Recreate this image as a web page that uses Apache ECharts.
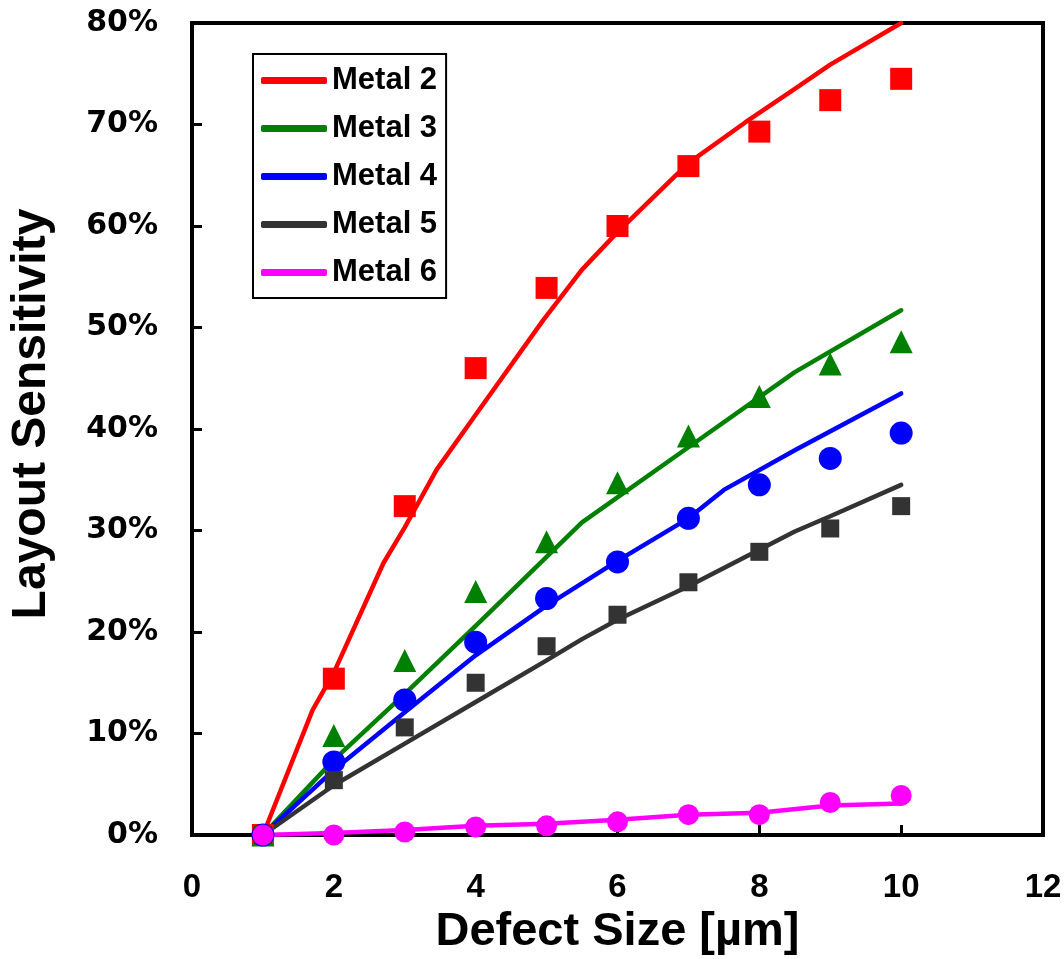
<!DOCTYPE html>
<html>
<head>
<meta charset="utf-8">
<script src="https://cdn.jsdelivr.net/npm/echarts@6/dist/echarts.min.js"></script>
<style>html,body{margin:0;padding:0;background:#fff;}#main{width:1064px;height:959px;}</style>
</head>
<body>
<div id="main"></div>
<script>
// Measured data (defect size in µm, sensitivity in %)
const defectSizes = [1, 2, 3, 4, 5, 6, 7, 8, 9, 10];
const metal2Meas = [0, 15.4, 32.4, 46.0, 53.9, 60.0, 65.9, 69.3, 72.4, 74.5];
const metal3Meas = [0, 9.8, 17.2, 24.0, 28.9, 34.7, 39.3, 43.2, 46.4, 48.6];
const metal4Meas = [0, 7.2, 13.3, 19.0, 23.3, 26.9, 31.2, 34.5, 37.1, 39.6];
const metal5Meas = [0, 5.4, 10.6, 15.0, 18.6, 21.7, 24.9, 27.9, 30.2, 32.4];
const metal6Meas = [0, 0.0, 0.3, 0.8, 0.9, 1.3, 2.0, 2.0, 3.2, 3.9];

// Model curves
const metal2ModelX = [1, 1.7, 2, 2.7, 3, 3.45, 4, 4.95, 5.5, 6, 7, 7.8, 8.5, 9, 10];
const metal2ModelY = [0, 12.3, 16.0, 26.8, 30.3, 36.0, 41.4, 50.7, 55.7, 59.4, 66.2, 70.2, 73.5, 75.9, 80.0];
const metal3ModelX = [1, 2, 3, 4, 5.5, 7, 8.5, 10];
const metal3ModelY = [0, 7.4, 13.9, 20.6, 30.8, 38.2, 45.6, 51.7];
const metal4ModelX = [1, 2, 3, 4, 5, 6, 7, 7.5, 8.5, 10];
const metal4ModelY = [0, 6.4, 12.1, 17.7, 22.6, 27.0, 31.2, 34.0, 37.9, 43.5];
const metal5ModelX = [1, 2, 3, 4, 5, 5.5, 6, 7, 8, 8.5, 9, 10];
const metal5ModelY = [0, 4.9, 9.0, 13.1, 17.2, 19.3, 21.2, 24.5, 28.1, 29.9, 31.4, 34.5];
const metal6ModelX = [1, 2, 3, 4, 5, 6, 7, 8, 9, 10];
const metal6ModelY = [0, 0.2, 0.5, 0.9, 1.1, 1.5, 2.0, 2.2, 2.9, 3.1];

const seriesNames = ['Metal 2', 'Metal 3', 'Metal 4', 'Metal 5', 'Metal 6'];
const colors = ['#FF0000', '#008000', '#0000FF', '#333333', '#FF00FF'];
const xTicks = [0, 2, 4, 6, 8, 10, 12];
const yTicks = [0, 10, 20, 30, 40, 50, 60, 70, 80];

const meas = [metal2Meas, metal3Meas, metal4Meas, metal5Meas, metal6Meas];
const modelX = [metal2ModelX, metal3ModelX, metal4ModelX, metal5ModelX, metal6ModelX];
const modelY = [metal2ModelY, metal3ModelY, metal4ModelY, metal5ModelY, metal6ModelY];
const symbols = ['rect', 'triangle', 'circle', 'rect', 'circle'];
const symbolSizes = [22, 23, 23, 18, 21];

const zip = (xs, ys) => xs.map((x, i) => [x, ys[i]]);

const series = [];
seriesNames.forEach((name, i) => {
  series.push({
    name: name,
    type: 'line',
    data: zip(modelX[i], modelY[i]),
    showSymbol: false,
    symbol: 'none',
    lineStyle: { color: colors[i], width: 4.5, cap: 'round', join: 'round' },
    itemStyle: { color: colors[i] },
    z: 2,
    clip: false
  });
});
seriesNames.forEach((name, i) => {
  series.push({
    name: name + ' data',
    type: 'scatter',
    data: zip(defectSizes, meas[i]),
    symbol: symbols[i],
    symbolSize: symbolSizes[i],
    itemStyle: { color: colors[i], opacity: 1 },
    z: 3
  });
});

const chart = echarts.init(document.getElementById('main'), null, { renderer: 'canvas' });
chart.setOption({
  animation: false,
  backgroundColor: '#ffffff',
  grid: {
    left: 192, right: 21, top: 23, bottom: 124,
    containLabel: false,
    outerBoundsMode: 'none',
    show: true, borderColor: '#000', borderWidth: 4, backgroundColor: 'transparent'
  },
  legend: {
    data: seriesNames,
    orient: 'vertical',
    left: 253,
    top: 54,
    icon: 'roundRect',
    itemWidth: 66,
    itemHeight: 7,
    itemGap: 17,
    padding: [11, 9, 10, 8],
    borderColor: '#000',
    borderWidth: 2,
    backgroundColor: '#fff',
    textStyle: { fontFamily: 'Liberation Sans, Arial, sans-serif', fontWeight: 'bold', fontSize: 31, color: '#000', lineHeight: 30, padding: [0, 0, 0, 0] }
  },
  xAxis: {
    type: 'value',
    min: xTicks[0], max: xTicks[xTicks.length - 1], interval: 2,
    name: 'Defect Size [µm]',
    nameLocation: 'middle',
    nameGap: 60,
    nameTextStyle: { fontFamily: 'Liberation Sans, Arial, sans-serif', fontWeight: 'bold', fontSize: 47, color: '#000' },
    axisLine: { show: true, onZero: false, lineStyle: { color: '#000', width: 4 } },
    axisTick: { show: true, inside: true, length: 10, lineStyle: { color: '#000', width: 3 } },
    axisLabel: { margin: 36, fontFamily: 'Liberation Sans, Arial, sans-serif', fontWeight: 'bold', fontSize: 33, color: '#000' },
    splitLine: { show: false }
  },
  yAxis: {
    type: 'value',
    min: yTicks[0], max: yTicks[yTicks.length - 1], interval: 10,
    name: 'Layout Sensitivity',
    nameLocation: 'middle',
    nameGap: 136,
    nameTextStyle: { fontFamily: 'Liberation Sans, Arial, sans-serif', fontWeight: 'bold', fontSize: 48, color: '#000', padding: [0, 0, 0, 30] },
    axisLine: { show: true, onZero: false, lineStyle: { color: '#000', width: 4 } },
    axisTick: { show: true, inside: true, length: 10, lineStyle: { color: '#000', width: 3 } },
    axisLabel: { margin: 34, formatter: '{value}%', fontFamily: 'DejaVu Sans, sans-serif', fontWeight: 'bold', fontSize: 30, color: '#000' },
    splitLine: { show: false }
  },
  series: series
});
</script>
</body>
</html>
